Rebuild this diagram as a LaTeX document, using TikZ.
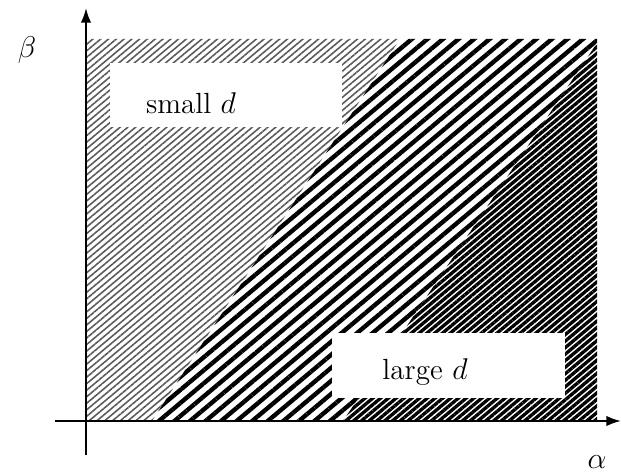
\documentclass[tikz,border=0pt]{standalone}
\usetikzlibrary{patterns.meta,arrows.meta}
\begin{document}
\begin{tikzpicture}[x=0.48pt,y=-0.48pt,
  axis/.style={line width=1pt,-{Latex[length=7pt,width=5pt]}},
  finehatch/.style={pattern={Lines[angle=40,distance=2.4pt,line width=0.75pt]},pattern color=black!65},
  widehatch/.style={pattern={Lines[angle=40,distance=4.8pt,line width=2.1pt]},pattern color=black},
  darkhatch/.style={pattern={Lines[angle=40,distance=2.4pt,line width=1.6pt]},pattern color=black},
  labelbox/.style={fill=white,draw=none},
  lbl/.style={font=\fontsize{14}{16}\selectfont,inner sep=0pt}]
\useasboundingbox (0,0) rectangle (621,476);
% corners of the regions
\coordinate (tl) at (86,39);
\coordinate (tm) at (400,39);
\coordinate (tr) at (597,39);
\coordinate (rr) at (597,43);
\coordinate (br) at (597,421);
\coordinate (bm) at (343,421);
\coordinate (bl) at (152,421);
\coordinate (o) at (86,421);
\fill[finehatch] (tl) -- (tm) -- (bl) -- (o) -- cycle;
\fill[widehatch] (tm) -- (tr) -- (rr) -- (bm) -- (bl) -- cycle;
\fill[darkhatch] (bm) -- (br) -- (rr) -- cycle;
% label boxes
\fill[labelbox] (110,63) rectangle (342,127);
\fill[labelbox] (332,333) rectangle (565,398);
\node[lbl] (small) at (191,103) {small $d$};
\node[lbl] (large) at (425,372) {large $d$};
% axes
\coordinate (xs) at (55,421);
\coordinate (xe) at (621,421);
\coordinate (ys) at (86,455);
\coordinate (ye) at (86,8);
\draw[axis] (xs) -- (xe);
\draw[axis] (ys) -- (ye);
\node[lbl] (beta) at (27,50) {$\beta$};
\node[lbl] (alpha) at (597,462) {$\alpha$};
\end{tikzpicture}
\end{document}
